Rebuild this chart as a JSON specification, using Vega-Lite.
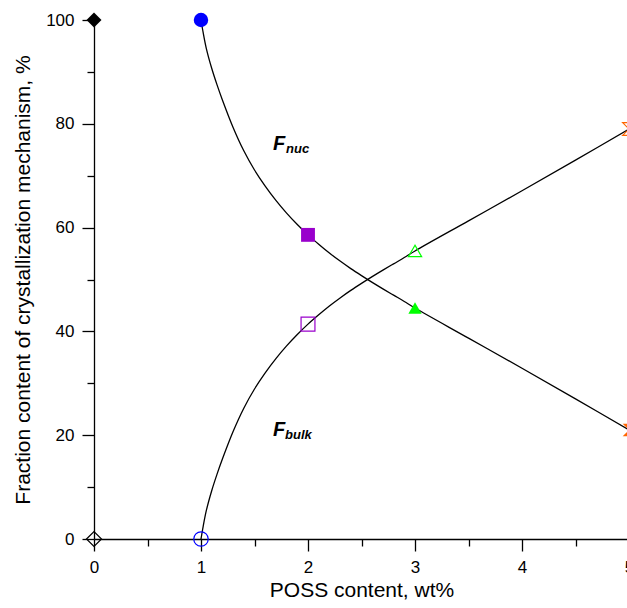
{
  "$schema": "https://vega.github.io/schema/vega-lite/v6.json",
  "autosize": {"type": "none"},
  "width": 535,
  "height": 519,
  "padding": {"left": 94, "top": 20, "right": -2, "bottom": 69},
  "background": "white",
  "config": {
    "view": {"stroke": null},
    "font": "Liberation Sans",
    "axis": {
      "grid": false,
      "domainColor": "black",
      "domainWidth": 1.3,
      "tickColor": "black",
      "tickWidth": 1.3,
      "labelColor": "black",
      "titleColor": "black",
      "labelFont": "Liberation Sans",
      "titleFont": "Liberation Sans",
      "labelFontSize": 17,
      "titleFontSize": 21,
      "titleFontWeight": "normal"
    }
  },
  "datasets": {
    "curves": [
      {"series": "nuc", "x": 1.0, "y": 100},
      {"series": "nuc", "x": 1.02, "y": 97.6},
      {"series": "nuc", "x": 1.05, "y": 94.5},
      {"series": "nuc", "x": 1.1, "y": 90.7},
      {"series": "nuc", "x": 1.15, "y": 87.5},
      {"series": "nuc", "x": 1.2, "y": 84.6},
      {"series": "nuc", "x": 1.3, "y": 79.3},
      {"series": "nuc", "x": 1.4, "y": 74.8},
      {"series": "nuc", "x": 1.5, "y": 71.1},
      {"series": "nuc", "x": 1.6, "y": 68.0},
      {"series": "nuc", "x": 1.7, "y": 65.25},
      {"series": "nuc", "x": 1.8, "y": 62.8},
      {"series": "nuc", "x": 1.9, "y": 60.6},
      {"series": "nuc", "x": 2.0, "y": 58.6},
      {"series": "nuc", "x": 2.1, "y": 56.8},
      {"series": "nuc", "x": 2.2, "y": 55.1},
      {"series": "nuc", "x": 2.3, "y": 53.55},
      {"series": "nuc", "x": 2.4, "y": 52.1},
      {"series": "nuc", "x": 2.5, "y": 50.75},
      {"series": "nuc", "x": 2.6, "y": 49.45},
      {"series": "nuc", "x": 2.7, "y": 48.2},
      {"series": "nuc", "x": 2.8, "y": 46.98},
      {"series": "nuc", "x": 2.9, "y": 45.77},
      {"series": "nuc", "x": 3.0, "y": 44.5},
      {"series": "nuc", "x": 3.5, "y": 38.7},
      {"series": "nuc", "x": 4.0, "y": 32.9},
      {"series": "nuc", "x": 4.5, "y": 27.0},
      {"series": "nuc", "x": 5.0, "y": 21.0},
      {"series": "bulk", "x": 1.0, "y": 0},
      {"series": "bulk", "x": 1.02, "y": 2.4},
      {"series": "bulk", "x": 1.05, "y": 5.5},
      {"series": "bulk", "x": 1.1, "y": 9.3},
      {"series": "bulk", "x": 1.15, "y": 12.5},
      {"series": "bulk", "x": 1.2, "y": 15.4},
      {"series": "bulk", "x": 1.3, "y": 20.7},
      {"series": "bulk", "x": 1.4, "y": 25.2},
      {"series": "bulk", "x": 1.5, "y": 28.9},
      {"series": "bulk", "x": 1.6, "y": 32.0},
      {"series": "bulk", "x": 1.7, "y": 34.75},
      {"series": "bulk", "x": 1.8, "y": 37.2},
      {"series": "bulk", "x": 1.9, "y": 39.4},
      {"series": "bulk", "x": 2.0, "y": 41.4},
      {"series": "bulk", "x": 2.1, "y": 43.2},
      {"series": "bulk", "x": 2.2, "y": 44.9},
      {"series": "bulk", "x": 2.3, "y": 46.45},
      {"series": "bulk", "x": 2.4, "y": 47.9},
      {"series": "bulk", "x": 2.5, "y": 49.25},
      {"series": "bulk", "x": 2.6, "y": 50.55},
      {"series": "bulk", "x": 2.7, "y": 51.8},
      {"series": "bulk", "x": 2.8, "y": 53.02},
      {"series": "bulk", "x": 2.9, "y": 54.23},
      {"series": "bulk", "x": 3.0, "y": 55.5},
      {"series": "bulk", "x": 3.5, "y": 61.3},
      {"series": "bulk", "x": 4.0, "y": 67.1},
      {"series": "bulk", "x": 4.5, "y": 73.0},
      {"series": "bulk", "x": 5.0, "y": 79.0}
    ],
    "points": [
      {"series": "nuc", "poss": 0, "value": 100},
      {"series": "nuc", "poss": 1, "value": 100},
      {"series": "nuc", "poss": 2, "value": 58.6},
      {"series": "nuc", "poss": 3, "value": 44.5},
      {"series": "nuc", "poss": 5, "value": 21.0},
      {"series": "bulk", "poss": 0, "value": 0},
      {"series": "bulk", "poss": 1, "value": 0},
      {"series": "bulk", "poss": 2, "value": 41.4},
      {"series": "bulk", "poss": 3, "value": 55.5},
      {"series": "bulk", "poss": 5, "value": 79.0}
    ],
    "symbols": [
      {"label": "F", "x": 1.673, "y": 74.95},
      {"label": "F", "x": 1.673, "y": 19.85}
    ],
    "subscripts": [
      {"label": "nuc", "x": 1.795, "y": 74.3},
      {"label": "bulk", "x": 1.785, "y": 19.2}
    ]
  },
  "layer": [
    {
      "mark": {"type": "rule", "color": "black", "strokeWidth": 1.3},
      "encoding": {
        "y": {
          "datum": 100,
          "type": "quantitative",
          "scale": {"domain": [0, 100], "nice": false},
          "axis": {
            "values": [0, 10, 20, 30, 40, 50, 60, 70, 80, 90, 100],
            "labelExpr": "datum.value % 20 === 0 ? format(datum.value, 'd') : ''",
            "tickSize": {"condition": {"test": "datum.value % 20 !== 0", "value": 7}, "value": 12},
            "labelPadding": 8,
            "title": "Fraction content of crystallization mechanism, %",
            "titlePadding": 12
          }
        }
      }
    },
    {
      "data": {"name": "curves"},
      "mark": {"type": "line", "color": "black", "strokeWidth": 1.3, "interpolate": "catmull-rom"},
      "encoding": {
        "x": {
          "field": "x",
          "type": "quantitative",
          "scale": {"domain": [0, 5], "nice": false, "zero": false},
          "axis": {
            "values": [0, 0.5, 1, 1.5, 2, 2.5, 3, 3.5, 4, 4.5, 5],
            "labelExpr": "datum.value % 1 === 0 ? format(datum.value, 'd') : ''",
            "tickSize": {"condition": {"test": "datum.value % 1 !== 0", "value": 7}, "value": 12},
            "labelPadding": 8,
            "labelFlush": false,
            "title": "POSS content, wt%",
            "titlePadding": 4
          }
        },
        "y": {"field": "y", "type": "quantitative"},
        "detail": {"field": "series"}
      }
    },
    {
      "data": {"name": "points"},
      "transform": [{"filter": "datum.series === 'nuc'"}],
      "mark": {"type": "point", "filled": true, "opacity": 1},
      "encoding": {
        "x": {"field": "poss", "type": "quantitative"},
        "y": {"field": "value", "type": "quantitative"},
        "color": {
          "field": "poss",
          "type": "nominal",
          "scale": {"domain": [0, 1, 2, 3, 5], "range": ["#000000", "#0000ff", "#9900cc", "#00ff00", "#ff6600"]},
          "legend": null
        },
        "shape": {
          "field": "poss",
          "type": "nominal",
          "scale": {"domain": [0, 1, 2, 3, 5], "range": ["diamond", "circle", "square", "triangle-up", "M-1,-1L1,-1L-1,1L1,1Z"]},
          "legend": null
        },
        "size": {
          "field": "poss",
          "type": "nominal",
          "scale": {"domain": [0, 1, 2, 3, 5], "range": [225, 160, 196, 170, 100]},
          "legend": null
        }
      }
    },
    {
      "data": {"name": "points"},
      "transform": [{"filter": "datum.series === 'bulk'"}],
      "mark": {"type": "point", "filled": false, "opacity": 1, "strokeWidth": 1.2},
      "encoding": {
        "x": {"field": "poss", "type": "quantitative"},
        "y": {"field": "value", "type": "quantitative"},
        "color": {
          "field": "poss",
          "type": "nominal",
          "scale": {"domain": [0, 1, 2, 3, 5], "range": ["#000000", "#0000ff", "#b040d8", "#00dd00", "#ff6600"]},
          "legend": null
        },
        "shape": {
          "field": "poss",
          "type": "nominal",
          "scale": {"domain": [0, 1, 2, 3, 5], "range": ["diamond", "circle", "square", "triangle-up", "M-1,-1L1,-1L-1,1L1,1Z"]},
          "legend": null
        },
        "size": {
          "field": "poss",
          "type": "nominal",
          "scale": {"domain": [0, 1, 2, 3, 5], "range": [225, 160, 196, 170, 100]},
          "legend": null
        }
      }
    },
    {
      "data": {"name": "symbols"},
      "mark": {"type": "text", "font": "Liberation Sans", "fontSize": 20, "fontWeight": "bold", "fontStyle": "italic", "align": "left", "baseline": "alphabetic", "color": "black"},
      "encoding": {
        "x": {"field": "x", "type": "quantitative"},
        "y": {"field": "y", "type": "quantitative"},
        "text": {"field": "label"}
      }
    },
    {
      "data": {"name": "subscripts"},
      "mark": {"type": "text", "font": "Liberation Sans", "fontSize": 13, "fontWeight": "bold", "fontStyle": "italic", "align": "left", "baseline": "alphabetic", "color": "black"},
      "encoding": {
        "x": {"field": "x", "type": "quantitative"},
        "y": {"field": "y", "type": "quantitative"},
        "text": {"field": "label"}
      }
    }
  ]
}
